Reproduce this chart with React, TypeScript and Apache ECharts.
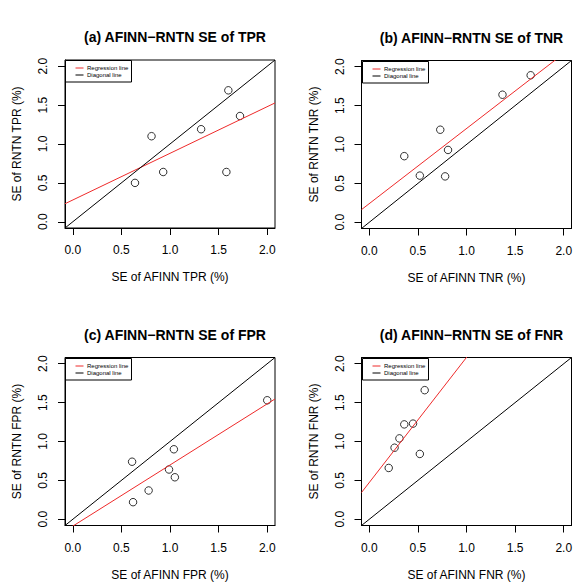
import React, { useEffect, useRef } from "react";
import * as echarts from "echarts";

// ---- data ----
const panelTitles = [
  "(a) AFINN\u2212RNTN SE of TPR",
  "(b) AFINN\u2212RNTN SE of TNR",
  "(c) AFINN\u2212RNTN SE of FPR",
  "(d) AFINN\u2212RNTN SE of FNR",
];
const xNames = ["SE of AFINN TPR (%)", "SE of AFINN TNR (%)", "SE of AFINN FPR (%)", "SE of AFINN FNR (%)"];
const yNames = ["SE of RNTN TPR (%)", "SE of RNTN TNR (%)", "SE of RNTN FPR (%)", "SE of RNTN FNR (%)"];

const tprX = [0.64, 0.81, 0.93, 1.32, 1.6, 1.58, 1.72];
const tprY = [0.5, 1.1, 0.64, 1.19, 1.69, 0.64, 1.36];
const tnrX = [0.36, 0.52, 0.73, 0.81, 0.78, 1.37, 1.66];
const tnrY = [0.85, 0.6, 1.19, 0.93, 0.59, 1.64, 1.89];
const fprX = [0.61, 0.62, 0.78, 0.99, 1.04, 1.05, 2.0];
const fprY = [0.74, 0.22, 0.37, 0.64, 0.9, 0.54, 1.53];
const fnrX = [0.2, 0.26, 0.31, 0.36, 0.45, 0.52, 0.57];
const fnrY = [0.66, 0.92, 1.04, 1.22, 1.23, 0.84, 1.66];

// regression lines (intercept, slope)
const regIntercepts = [0.28, 0.24, -0.088, 0.473];
const regSlopes = [0.6, 0.965, 0.786, 1.608];

const tickValues = [0, 0.5, 1, 1.5, 2];
const axisMin = -0.08;
const axisMax = 2.08;
const legendLabels = ["Regression line", "Diagonal line"];

const xs = [tprX, tnrX, fprX, fnrX];
const ys = [tprY, tnrY, fprY, fnrY];

// ---- layout ----
const FONT = "Liberation Sans, Arial, Helvetica, sans-serif";
const grids = [
  { left: 65, top: 60, width: 210, height: 168 },
  { left: 361.5, top: 60.5, width: 210, height: 168 },
  { left: 65, top: 357.5, width: 210, height: 168 },
  { left: 361.5, top: 357.5, width: 210, height: 168 },
];
const RED = "#ee2a2a";

export default function App() {
  const ref = useRef<HTMLDivElement>(null);
  useEffect(() => {
    document.body.style.margin = "0";
    if (!ref.current) return;
    const chart = echarts.init(ref.current, undefined, { renderer: "svg" });

    const xAxis: any[] = [];
    const yAxis: any[] = [];
    const series: any[] = [];
    const title: any[] = [];
    const graphic: any[] = [];

    grids.forEach((g, i) => {
      title.push({
        text: panelTitles[i],
        left: g.left + g.width / 2,
        top: g.top - 35,
        textAlign: "center",
        textStyle: { fontFamily: FONT, fontSize: 14, fontWeight: "bold", color: "#000" },
      });
      const common = {
        gridIndex: i,
        type: "value",
        min: axisMin,
        max: axisMax,
        splitLine: { show: false },
        axisLine: { show: true, onZero: false, lineStyle: { color: "#000", width: 1 } },
        axisTick: {
          show: true,
          length: 7,
          customValues: tickValues,
          lineStyle: { color: "#000", width: 1 },
        },
        nameLocation: "middle",
        nameTextStyle: { fontFamily: FONT, fontSize: 12, color: "#000" },
      };
      xAxis.push({
        ...common,
        name: xNames[i],
        nameGap: 43,
        axisLabel: {
          customValues: tickValues,
          formatter: (v: number) => v.toFixed(1),
          margin: 16,
          fontFamily: FONT,
          fontSize: 12,
          color: "#000",
        },
      });
      yAxis.push({
        ...common,
        name: yNames[i],
        nameGap: 42,
        axisLabel: {
          customValues: tickValues,
          formatter: (v: number) => v.toFixed(1),
          rotate: 90,
          margin: 16,
          fontFamily: FONT,
          fontSize: 12,
          color: "#000",
        },
      });
      series.push({
        type: "scatter",
        xAxisIndex: i,
        yAxisIndex: i,
        symbol: "circle",
        symbolSize: 7.5,
        itemStyle: { color: "rgba(0,0,0,0)", borderColor: "#000", borderWidth: 1 },
        data: xs[i].map((x, k) => [x, ys[i][k]]),
      });
      series.push({
        type: "line",
        xAxisIndex: i,
        yAxisIndex: i,
        symbol: "none",
        clip: true,
        lineStyle: { color: RED, width: 1 },
        data: [
          [axisMin, regIntercepts[i] + regSlopes[i] * axisMin],
          [axisMax, regIntercepts[i] + regSlopes[i] * axisMax],
        ],
      });
      series.push({
        type: "line",
        xAxisIndex: i,
        yAxisIndex: i,
        symbol: "none",
        clip: true,
        lineStyle: { color: "#000", width: 1 },
        data: [
          [axisMin, axisMin],
          [axisMax, axisMax],
        ],
      });
      // legend box
      const lx = Math.round(g.left) + 0.5;
      const ly = Math.round(g.top) + 0.5;
      graphic.push({
        type: "rect",
        shape: { x: lx, y: ly, width: 66, height: 21.5 },
        style: { fill: "#fff", stroke: "#000", lineWidth: 1 },
        z: 100,
      });
      [RED, "#000"].forEach((c, k) => {
        const yy = ly + 7.5 + k * 7;
        graphic.push({
          type: "line",
          shape: { x1: lx + 10, y1: yy, x2: lx + 18, y2: yy },
          style: { stroke: c, lineWidth: 1 },
          z: 101,
        });
        graphic.push({
          type: "text",
          x: lx + 21.5,
          y: yy,
          style: {
            text: legendLabels[k],
            fontFamily: FONT,
            fontSize: 6,
            fill: "#000",
            verticalAlign: "middle",
            align: "left",
          },
          z: 101,
        });
      });
    });

    chart.setOption({
      animation: false,
      backgroundColor: "#fff",
      title,
      grid: grids.map((g) => ({
        ...g,
        show: true,
        borderColor: "#000",
        borderWidth: 1,
      })),
      xAxis,
      yAxis,
      series,
      graphic,
    });
    return () => chart.dispose();
  }, []);
  return <div ref={ref} style={{ width: 579, height: 583 }} />;
}
